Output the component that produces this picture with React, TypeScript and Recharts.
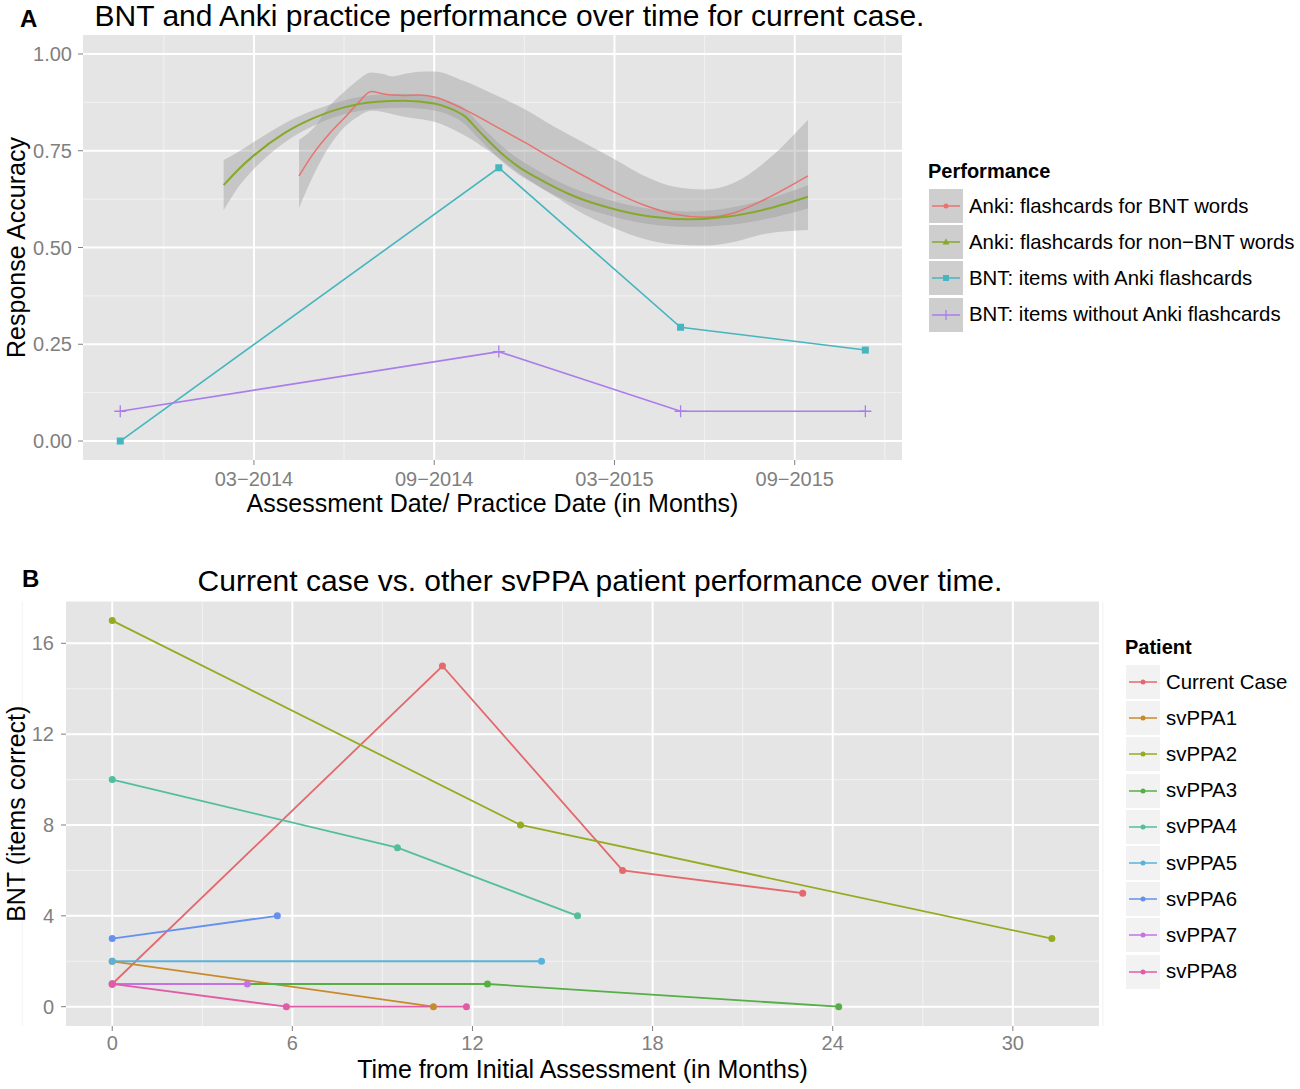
import React from 'react';
import { ComposedChart, Line, Area, XAxis, YAxis, CartesianGrid } from 'recharts';

const FONT = '"Liberation Sans", Arial, Helvetica, sans-serif';

// ---- Panel A (x = months counted from 01-2014, so 03-2014 = 2) ----
const dateTicks = [2, 8, 14, 20];
const dateTickLabels = ['03\u22122014', '09\u22122014', '03\u22122015', '09\u22122015'];
const accuracyTicks = [0, 0.25, 0.5, 0.75, 1];
const accuracyMinor = [0.125, 0.375, 0.625, 0.875];
const dateMinor = [-1, 5, 11, 17, 23];

const bntMonths = [-2.45, 10.15, 16.2, 22.35];
const bntWithAnki = [0, 0.706, 0.294, 0.235];
const bntWithoutAnki = [0.077, 0.231, 0.077, 0.077];

const ankiBntMonths = [3.5, 4.0, 4.5, 5.0, 5.5, 5.9, 6.3, 6.6, 7.0, 7.5, 8.0, 9.0, 10.0, 11.0, 12.0, 13.0, 14.0, 15.0, 16.0, 17.0, 18.0, 19.0, 20.44];
const ankiBntFit = [0.685, 0.745, 0.793, 0.834, 0.876, 0.903, 0.897, 0.894, 0.893, 0.894, 0.889, 0.857, 0.815, 0.772, 0.727, 0.684, 0.643, 0.609, 0.586, 0.578, 0.59, 0.624, 0.685];
const ankiBntLow = [0.602, 0.69, 0.76, 0.81, 0.84, 0.853, 0.85, 0.845, 0.838, 0.832, 0.825, 0.79, 0.74, 0.683, 0.633, 0.585, 0.55, 0.522, 0.508, 0.505, 0.515, 0.535, 0.545];
const ankiBntHigh = [0.778, 0.81, 0.865, 0.902, 0.935, 0.952, 0.948, 0.942, 0.948, 0.954, 0.955, 0.93, 0.895, 0.858, 0.812, 0.77, 0.728, 0.685, 0.657, 0.65, 0.668, 0.72, 0.83];

const ankiOtherMonths = [0.99, 1.5, 2.0, 3.0, 4.0, 5.0, 6.0, 7.0, 8.0, 8.5, 9.0, 9.5, 10.2, 10.8, 11.4, 12.7, 14.0, 15.2, 16.5, 17.8, 19.0, 20.44];
const ankiOtherFit = [0.661, 0.703, 0.738, 0.795, 0.835, 0.862, 0.876, 0.879, 0.872, 0.86, 0.84, 0.8, 0.746, 0.709, 0.681, 0.631, 0.599, 0.58, 0.573, 0.58, 0.598, 0.631];
const ankiOtherLow = [0.596, 0.658, 0.703, 0.77, 0.815, 0.844, 0.858, 0.861, 0.854, 0.842, 0.82, 0.78, 0.726, 0.689, 0.661, 0.611, 0.579, 0.56, 0.553, 0.558, 0.573, 0.601];
const ankiOtherHigh = [0.726, 0.748, 0.773, 0.82, 0.855, 0.88, 0.894, 0.897, 0.89, 0.878, 0.86, 0.82, 0.766, 0.729, 0.701, 0.651, 0.619, 0.6, 0.593, 0.602, 0.623, 0.661];

const performanceNames = [
  'Anki: flashcards for BNT words',
  'Anki: flashcards for non\u2212BNT words',
  'BNT: items with Anki flashcards',
  'BNT: items without Anki flashcards',
];
const performanceColors = ['#E8736F', '#86A92A', '#45B5BE', '#AA7DEB'];

// ---- Panel B ----
const patientNames = ['Current Case', 'svPPA1', 'svPPA2', 'svPPA3', 'svPPA4', 'svPPA5', 'svPPA6', 'svPPA7', 'svPPA8'];
const patientColors = ['#E4696E', '#C88B2C', '#96AA22', '#55AF45', '#53BE9E', '#58B2DC', '#6690EE', '#C473E6', '#E05CA6'];
const patientMonths = [
  [0, 11.0, 17.0, 23.0],
  [0, 10.7],
  [0, 13.6, 31.3],
  [0, 12.5, 24.2],
  [0, 9.5, 15.5],
  [0, 14.3],
  [0, 5.5],
  [0, 4.5],
  [0, 5.8, 11.8],
];
const patientBnt = [
  [1, 15, 6, 5],
  [2, 0],
  [17, 8, 3],
  [1, 1, 0],
  [10, 7, 4],
  [2, 2],
  [3, 4],
  [1, 1],
  [1, 0, 0],
];
const monthTicks = [0, 6, 12, 18, 24, 30];
const monthMinor = [-3, 3, 9, 15, 21, 27, 33];
const bntTicks = [0, 4, 8, 12, 16];
const bntMinor = [2, 6, 10, 14];

const ankiBntData = ankiBntMonths.map((m, i) => ({ m, fit: ankiBntFit[i], band: [ankiBntLow[i], ankiBntHigh[i]] }));
const ankiOtherData = ankiOtherMonths.map((m, i) => ({ m, fit: ankiOtherFit[i], band: [ankiOtherLow[i], ankiOtherHigh[i]] }));
const bntWithData = bntMonths.map((m, i) => ({ m, v: bntWithAnki[i] }));
const bntWithoutData = bntMonths.map((m, i) => ({ m, v: bntWithoutAnki[i] }));
const patientData = patientNames.map((_, p) => patientMonths[p].map((m, i) => ({ m, v: patientBnt[p][i] })));

const tickStyle = { fill: '#7F7F7F', fontSize: 20, fontFamily: FONT };
const tickLineStyle = { stroke: '#7F7F7F', strokeWidth: 1 };
const axisTitle = { fill: '#000', fontSize: 25, fontFamily: FONT };

const squareDot = (color: string) => (p: any) => (
  <rect key={`sq-${p.index}`} x={p.cx - 3.5} y={p.cy - 3.5} width={7} height={7} fill={color} />
);
const crossDot = (color: string) => (p: any) => (
  <path key={`cr-${p.index}`} d={`M${p.cx - 6},${p.cy}h12M${p.cx},${p.cy - 6}v12`} stroke={color} strokeWidth={1.3} fill="none" />
);

const KeyGlyph = ({ color, shape, bg }: { color: string; shape: string; bg: string }) => (
  <svg width={34} height={34} style={{ display: 'block' }}>
    <rect x={0} y={0} width={34} height={34} fill={bg} />
    <line x1={3} y1={17} x2={31} y2={17} stroke={color} strokeWidth={1.5} />
    {shape === 'circle' && <circle cx={17} cy={17} r={2.5} fill={color} />}
    {shape === 'triangle' && <path d="M17,13.5 L20.5,19.5 L13.5,19.5 Z" fill={color} />}
    {shape === 'square' && <rect x={14} y={14} width={6} height={6} fill={color} />}
    {shape === 'cross' && <path d="M17,12v10" stroke={color} strokeWidth={1.3} />}
  </svg>
);

const Legend = ({ title, names, colors, shapes, bg, left, top }: any) => (
  <div style={{ position: 'absolute', left, top, fontFamily: FONT }}>
    <div style={{ fontWeight: 'bold', fontSize: 20, height: 30, lineHeight: '26px' }}>{title}</div>
    {names.map((n: string, i: number) => (
      <div key={n} style={{ display: 'flex', alignItems: 'center', height: 36.2 }}>
        <div style={{ border: '1px solid #fff' }}>
          <KeyGlyph color={colors[i]} shape={shapes[i]} bg={bg} />
        </div>
        <span style={{ fontSize: 20.4, marginLeft: 5, whiteSpace: 'nowrap' }}>{n}</span>
      </div>
    ))}
  </div>
);

export default function App() {
  return (
    <div style={{ position: 'absolute', left: 0, top: 0, width: 1300, height: 1089, background: '#fff', fontFamily: FONT }}>
      <div style={{ position: 'absolute', left: 20, top: 5, fontSize: 24, fontWeight: 'bold' }}>A</div>
      <div style={{ position: 'absolute', left: 0, width: 1019, top: -1, textAlign: 'center', fontSize: 30 }}>
        BNT and Anki practice performance over time for current case.
      </div>

      <div style={{ position: 'absolute', left: 0, top: 0 }}>
        <ComposedChart width={910} height={530} margin={{ top: 35, right: 8, bottom: 0, left: 0 }}>
          <CartesianGrid fill="#E5E5E5" stroke="#F2F2F2" strokeWidth={1} horizontalValues={accuracyMinor} verticalValues={dateMinor} />
          <CartesianGrid stroke="#FFFFFF" strokeWidth={2} horizontalValues={accuracyTicks} verticalValues={dateTicks} />
          <XAxis
            type="number"
            dataKey="m"
            domain={[-3.69, 23.57]}
            allowDataOverflow
            ticks={dateTicks}
            tickFormatter={(v: number) => dateTickLabels[dateTicks.indexOf(v)]}
            tick={tickStyle}
            tickLine={tickLineStyle}
            tickSize={5}
            tickMargin={7}
            axisLine={false}
            height={70}
            label={{ value: 'Assessment Date/ Practice Date (in Months)', position: 'insideBottom', offset: 18, style: axisTitle }}
          />
          <YAxis
            type="number"
            domain={[-0.049, 1.049]}
            allowDataOverflow
            ticks={accuracyTicks}
            tickFormatter={(v: number) => v.toFixed(2)}
            tick={tickStyle}
            tickLine={tickLineStyle}
            tickSize={5}
            tickMargin={6}
            axisLine={false}
            width={83}
            label={{ value: 'Response Accuracy', angle: -90, position: 'insideLeft', offset: 16, style: { ...axisTitle, textAnchor: 'middle' } }}
          />
          <Area data={ankiOtherData} dataKey="band" type="monotone" stroke="none" fill="#999999" fillOpacity={0.4} dot={false} activeDot={false} isAnimationActive={false} />
          <Area data={ankiBntData} dataKey="band" type="monotone" stroke="none" fill="#999999" fillOpacity={0.4} dot={false} activeDot={false} isAnimationActive={false} />
          <Line data={bntWithData} dataKey="v" stroke={performanceColors[2]} strokeWidth={1.6} dot={squareDot(performanceColors[2])} activeDot={false} isAnimationActive={false} />
          <Line data={bntWithoutData} dataKey="v" stroke={performanceColors[3]} strokeWidth={1.6} dot={crossDot(performanceColors[3])} activeDot={false} isAnimationActive={false} />
          <Line data={ankiBntData} dataKey="fit" type="monotone" stroke={performanceColors[0]} strokeWidth={1.5} dot={false} activeDot={false} isAnimationActive={false} />
          <Line data={ankiOtherData} dataKey="fit" type="monotone" stroke={performanceColors[1]} strokeWidth={2} dot={false} activeDot={false} isAnimationActive={false} />
        </ComposedChart>
      </div>

      <Legend
        title="Performance"
        names={performanceNames}
        colors={performanceColors}
        shapes={['circle', 'triangle', 'square', 'cross']}
        bg="#CECECE"
        left={928}
        top={158}
      />

      <div style={{ position: 'absolute', left: 22, top: 565, fontSize: 24, fontWeight: 'bold' }}>B</div>
      <div style={{ position: 'absolute', left: 0, width: 1200, top: 564, textAlign: 'center', fontSize: 30 }}>
        Current case vs. other svPPA patient performance over time.
      </div>

      <div style={{ position: 'absolute', left: 0, top: 560 }}>
        <ComposedChart width={1107} height={529} margin={{ top: 41.5, right: 8, bottom: 0, left: 0 }}>
          <CartesianGrid fill="#E5E5E5" stroke="#F2F2F2" strokeWidth={1} horizontalValues={bntMinor} verticalValues={monthMinor} />
          <CartesianGrid stroke="#FFFFFF" strokeWidth={2} horizontalValues={bntTicks} verticalValues={monthTicks} />
          <XAxis
            type="number"
            dataKey="m"
            domain={[-1.54, 32.87]}
            allowDataOverflow
            ticks={monthTicks}
            tick={tickStyle}
            tickLine={tickLineStyle}
            tickSize={5}
            tickMargin={5}
            axisLine={false}
            height={63}
            label={{ value: 'Time from Initial Assessment (in Months)', position: 'insideBottom', offset: 11, style: axisTitle }}
          />
          <YAxis
            type="number"
            domain={[-0.85, 17.84]}
            allowDataOverflow
            ticks={bntTicks}
            tick={tickStyle}
            tickLine={tickLineStyle}
            tickSize={5}
            tickMargin={7}
            axisLine={false}
            width={66}
            label={{ value: 'BNT (items correct)', angle: -90, position: 'insideLeft', offset: 16, style: { ...axisTitle, textAnchor: 'middle' } }}
          />
          {patientNames.map((name, p) => (
            <Line
              key={name}
              data={patientData[p]}
              dataKey="v"
              name={name}
              stroke={patientColors[p]}
              strokeWidth={1.8}
              dot={{ r: 3.5, fill: patientColors[p], stroke: 'none' }}
              activeDot={false}
              isAnimationActive={false}
            />
          ))}
        </ComposedChart>
      </div>

      <Legend
        title="Patient"
        names={patientNames}
        colors={patientColors}
        shapes={patientNames.map(() => 'circle')}
        bg="#F2F2F2"
        left={1125}
        top={634}
      />
    </div>
  );
}
